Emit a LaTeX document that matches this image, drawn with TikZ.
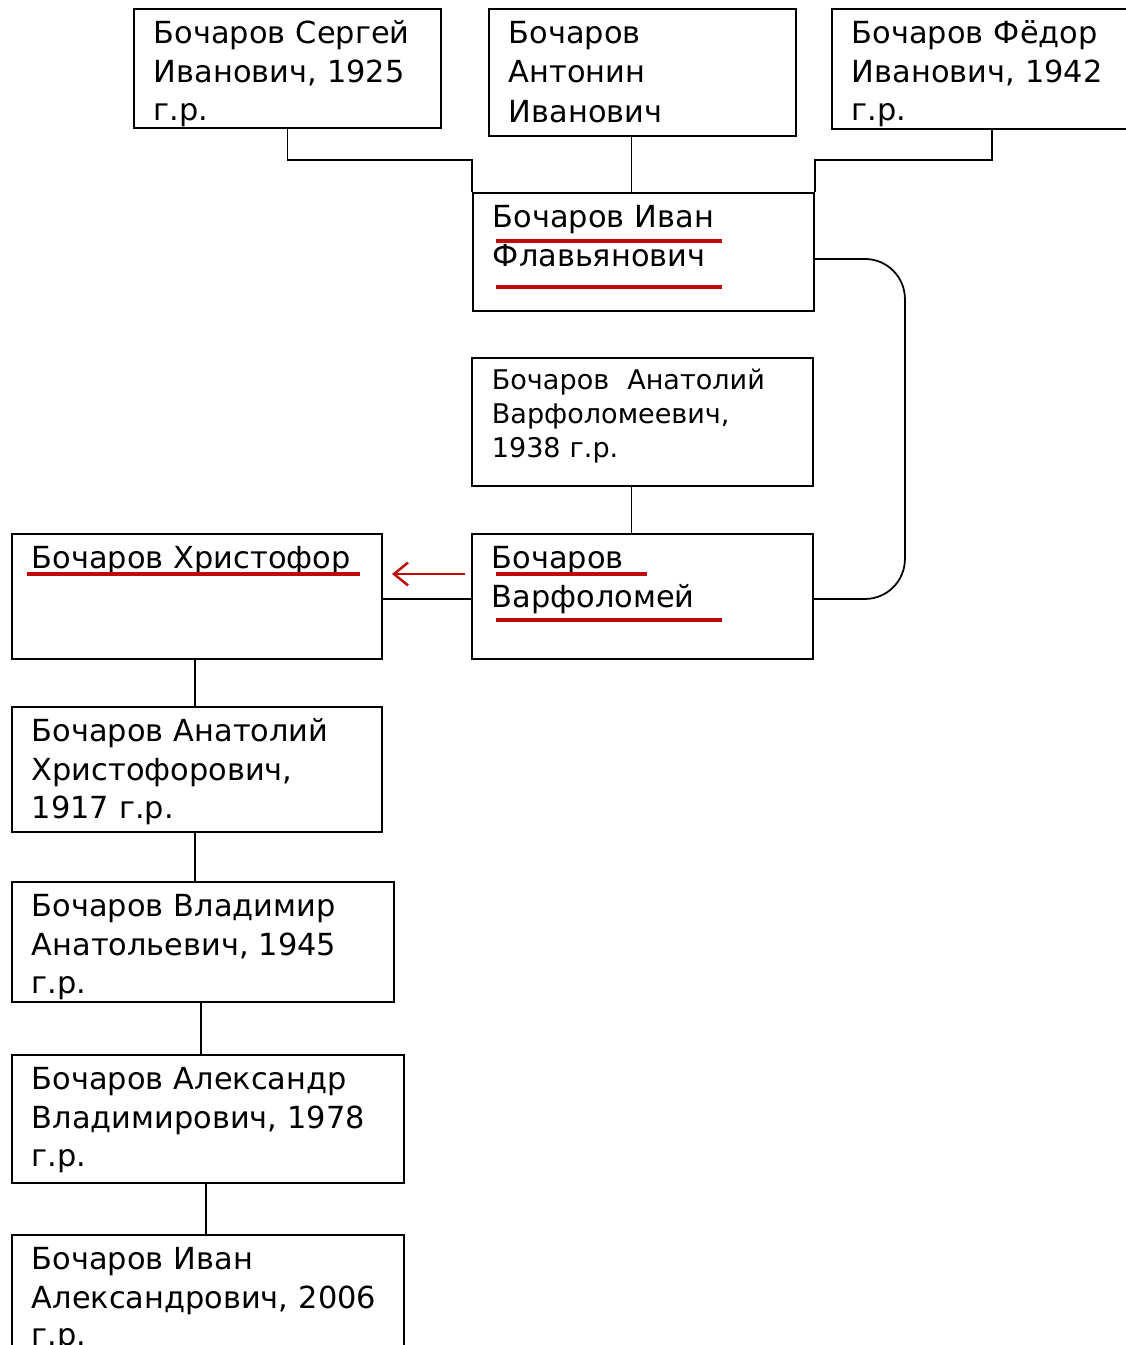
\documentclass[tikz,border=0pt]{standalone}
\usepackage{fontspec}
\setmainfont{DejaVu Sans}
\usetikzlibrary{arrows.meta,calc}
\definecolor{lineRed}{RGB}{190,10,10}

\begin{document}
\begin{tikzpicture}[
    person/.style 2 args={rectangle, draw, line width=1.1pt, anchor=north west, inner sep=0pt, minimum width=#1, minimum height=#2},
    fullname/.style={anchor=base west, inner sep=0pt, text width=7.5cm, align=left, font=\fontsize{17.3}{22.4}\selectfont},
    link/.style={line width=1pt},
    uline/.style={lineRed, line width=2pt},
    arrow/.style={lineRed, line width=1.4pt, -{Straight Barb[length=8pt, width=13pt]}}
]
\clip (0,0) rectangle (22.52,-26.9);
\fill[white] (0,0) rectangle (22.52,-26.9);

% Boxes
\node[person={6.14cm}{2.38cm}] (sergey) at (2.66,-0.16) {};
\node[person={6.14cm}{2.54cm}] (antonin) at (9.76,-0.16) {};
\node[person={6.40cm}{2.40cm}] (fedor) at (16.62,-0.16) {};
\node[person={6.82cm}{2.36cm}] (ivanF) at (9.44,-3.84) {};
\node[person={6.82cm}{2.56cm}] (anatolyV) at (9.42,-7.14) {};
\node[person={6.82cm}{2.50cm}] (varfolomey) at (9.42,-10.66) {};
\node[person={7.40cm}{2.50cm}] (hristofor) at (0.22,-10.66) {};
\node[person={7.40cm}{2.50cm}] (anatolyH) at (0.22,-14.12) {};
\node[person={7.64cm}{2.40cm}] (vladimir) at (0.22,-17.62) {};
\node[person={7.84cm}{2.56cm}] (aleksandr) at (0.22,-21.08) {};
\node[person={7.84cm}{2.60cm}] (ivanA) at (0.22,-24.68) {};

% Texts
\node[fullname] (sergeyT) at ([shift={(0.41,-0.71)}]sergey.north west) {Бочаров Сергей\\Иванович, 1925\\[-0.04cm]г.р.};
\node[fullname] (antoninT) at ([shift={(0.41,-0.71)}]antonin.north west) {Бочаров\\Антонин\\Иванович};
\node[fullname] (fedorT) at ([shift={(0.41,-0.71)}]fedor.north west) {Бочаров Фёдор\\Иванович, 1942\\[-0.04cm]г.р.};
\node[fullname] (ivanFT) at ([shift={(0.41,-0.71)}]ivanF.north west) {Бочаров Иван\\Флавьянович};
\node[fullname, font=\fontsize{15.4}{19.5}\selectfont] (anatolyVT) at ([shift={(0.41,-0.64)}]anatolyV.north west) {Бочаров\ \ Анатолий\\Варфоломеевич,\\1938 г.р.};
\node[fullname] (varfolomeyT) at ([shift={(0.41,-0.71)}]varfolomey.north west) {Бочаров\\Варфоломей};
\node[fullname] (hristoforT) at ([shift={(0.41,-0.71)}]hristofor.north west) {Бочаров Христофор};
\node[fullname] (anatolyHT) at ([shift={(0.41,-0.71)}]anatolyH.north west) {Бочаров Анатолий\\Христофорович,\\[-0.04cm]1917 г.р.};
\node[fullname] (vladimirT) at ([shift={(0.41,-0.71)}]vladimir.north west) {Бочаров Владимир\\Анатольевич, 1945\\[-0.04cm]г.р.};
\node[fullname] (aleksandrT) at ([shift={(0.41,-0.71)}]aleksandr.north west) {Бочаров Александр\\Владимирович, 1978\\[-0.04cm]г.р.};
\node[fullname] (ivanAT) at ([shift={(0.41,-0.71)}]ivanA.north west) {Бочаров Иван\\Александрович, 2006\\[-0.06cm]г.р.};

% Connectors
\draw[link] (sergey.south) -- ++(0,-0.62) -| (ivanF.north west);
\draw[link] (fedor.south) -- ++(0,-0.60) -| (ivanF.north east);
\draw[link] ([xshift=-0.22cm]antonin.south) -- ([xshift=-0.22cm]antonin.south |- ivanF.north);
\draw[link, rounded corners=0.8cm] ([yshift=-0.14cm]ivanF.east) -- ++(1.8,0) |- ([yshift=-0.05cm]varfolomey.east);
\draw[link] ([xshift=-0.22cm]anatolyV.south) -- ([xshift=-0.22cm]anatolyV.south |- varfolomey.north);
\draw[link] ([yshift=-0.05cm]varfolomey.west) -- ([yshift=-0.05cm]varfolomey.west -| hristofor.east);
\foreach \a/\b in {hristofor/anatolyH, anatolyH/vladimir, vladimir/aleksandr, aleksandr/ivanA}
    \draw[link] ([xshift=-0.04cm]\a.south) -- ([xshift=-0.04cm]\a.south |- \b.north);

% Red marks
\coordinate (arrowStart) at (9.30,-11.48);
\coordinate (arrowEnd) at (7.84,-11.48);
\draw[arrow] (arrowStart) -- (arrowEnd);
\draw[uline] (9.92,-4.82) -- (14.44,-4.82);
\draw[uline] (9.92,-5.74) -- (14.44,-5.74);
\draw[uline] (9.92,-11.48) -- (12.94,-11.48);
\draw[uline] (9.92,-12.40) -- (14.44,-12.40);
\draw[uline] (0.54,-11.48) -- (7.20,-11.48);

\end{tikzpicture}
\end{document}
